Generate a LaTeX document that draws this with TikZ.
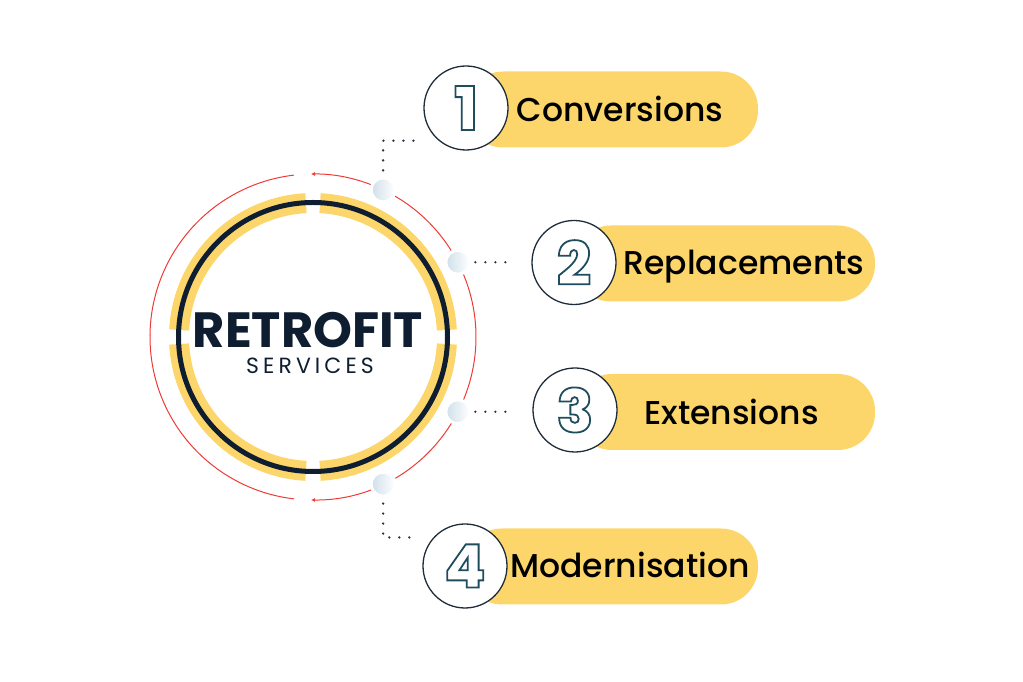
\documentclass[tikz,border=0pt]{standalone}
\usepackage{fontspec}
\setmainfont{Poppins}
\newfontfamily\labelfont{Poppins Medium}
\newfontfamily\digitfont{Poppins ExtraBold}
\usetikzlibrary{calc,arrows.meta}
\definecolor{ringyellow}{HTML}{FCD66B}
\definecolor{navy}{HTML}{0E1E30}
\definecolor{ringred}{HTML}{EE3B36}
\definecolor{bubblecol}{HTML}{CFDFEA}
\definecolor{numborder}{HTML}{1F2D3A}
\definecolor{digitcol}{HTML}{1E4E5E}
\definecolor{dotcol}{HTML}{2A3440}
\newcommand{\outlinedigit}[1]{\special{pdf:literal direct 1 Tr 1.8 w}#1\special{pdf:literal direct 0 Tr}}
\tikzset{
  bubble/.style={circle,minimum size=24bp,inner sep=0pt,draw=white,line width=3bp,
    left color=bubblecol,right color=white},
  numcirc/.style={circle,minimum size=84bp,inner sep=0pt,draw=numborder,line width=1.3bp,
    fill=white,text=digitcol,font=\digitfont\fontsize{60bp}{60bp}\selectfont},
  pill/.style={fill=ringyellow,rounded corners=37bp,minimum height=76bp,inner sep=0pt},
  itemlabel/.style={anchor=base,font=\labelfont\fontsize{33bp}{36bp}\selectfont},
  dots/.style={dotcol,line width=2.6bp,line cap=round,dash pattern=on 0pt off 10bp}
}
\begin{document}
\begin{tikzpicture}[x=1bp,y=1bp]
\useasboundingbox (0,0) rectangle (1023,682);
\coordinate (c) at (313,345);

\foreach \a in {0,90,180,270}
  \draw[ringyellow,line width=20bp] ([shift={(\a+3:134)}]c) arc (\a+3:\a+87:134);
\draw[navy,line width=5bp] (c) circle (134.5);

\draw[ringred,line width=1bp] ([shift={(96.7:163)}]c) arc (96.7:263.3:163);
\draw[ringred,line width=1bp,{Latex[length=4bp,width=4bp]}-{Latex[length=4bp,width=4bp]}]
  ([shift={(-90.7:163)}]c) arc (-90.7:90.7:163);

\node[font=\fontsize{49.5bp}{50bp}\selectfont\bfseries,text=navy,anchor=base,inner sep=0pt] (brand) at (308,334) {RETROFIT};
\node[font=\fontsize{22bp}{24bp}\selectfont\addfontfeatures{LetterSpace=18.5},text=navy,anchor=base,inner sep=0pt] (sub) at (310,308) {SERVICES};

\node[bubble] (b1) at ($(c)+(64.5:163)$) {};
\node[bubble] (b2) at ($(c)+(27.3:163)$) {};
\node[bubble] (b3) at ($(c)+(-27.3:163)$) {};
\node[bubble] (b4) at ($(c)+(-64.5:163)$) {};

\node[pill,minimum width=292bp] (p1) at (612,572.5) {};
\node[pill,minimum width=301bp] (p2) at (724.5,418.5) {};
\node[pill,minimum width=300bp] (p3) at (725,270) {};
\node[pill,minimum width=293bp] (p4) at (611.5,115.5) {};

\node[numcirc] (n1) at (466,574) {\outlinedigit{1}};
\node[numcirc] (n2) at (574,419.5) {\outlinedigit{2}};
\node[numcirc] (n3) at (575,272) {\outlinedigit{3}};
\node[numcirc] (n4) at (465,116) {\outlinedigit{4}};

\node[itemlabel] (l1) at (620,560) {Conversions};
\node[itemlabel] (l2) at (744,407) {Replacements};
\node[itemlabel] (l3) at (731.5,257) {Extensions};
\node[itemlabel] (l4) at (630,104) {Modernisation};

\draw[dots,shorten <=6bp,shorten >=18bp] (b1.north) |- (n1.230);
\draw[dots,shorten <=4bp,shorten >=18bp] (b2.east) -- (b2 -| n2.west);
\draw[dots,shorten <=4bp,shorten >=18bp] (b3.east) -- (b3 -| n3.west);
\draw[dots,shorten <=6bp,shorten >=18bp] (b4.south) |- (n4.138);
\end{tikzpicture}
\end{document}
